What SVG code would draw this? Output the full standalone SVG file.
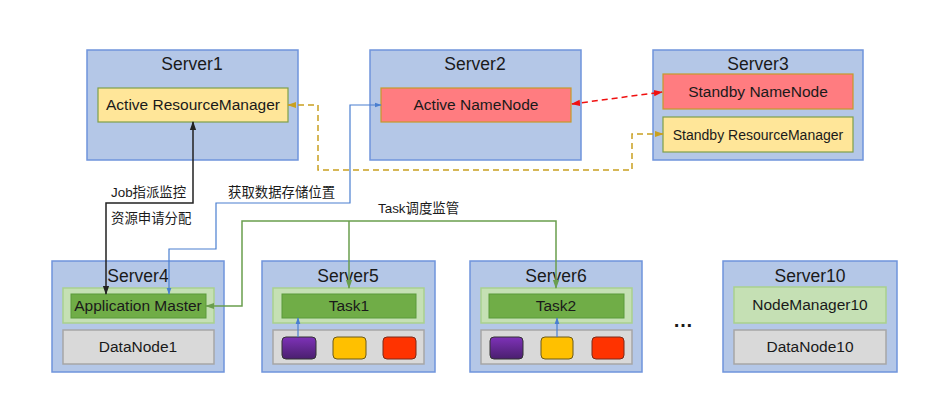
<svg xmlns="http://www.w3.org/2000/svg" width="931" height="411" viewBox="0 0 931 411">
<defs>
<style>
.srv{fill:#B4C7E7;stroke:#6F94DC;stroke-width:1.5}
.yel{fill:#FFE699;stroke:#7F9F4A;stroke-width:1.2}
.red{fill:#FF7C80;stroke:#C59A2A;stroke-width:1.2}
.lg{fill:#C5E0B4;stroke:#A9D18E;stroke-width:1.5}
.dg{fill:#70AD47;stroke:#5A9A3A;stroke-width:1}
.gray{fill:#D9D9D9;stroke:#A6A6A6;stroke-width:1.5}
.t{font-family:"Liberation Sans",Arial,sans-serif;fill:#1a1a1a;text-anchor:middle}
.title{font-size:17.5px}
.lbl{font-size:15.5px}
.cn{font-family:"Liberation Sans","Noto Sans CJK SC",sans-serif;font-size:13.4px;fill:#1a1a1a}
.ln{fill:none}
</style>
<linearGradient id="pg" x1="0" y1="0" x2="0" y2="1">
<stop offset="0" stop-color="#7E32B8"/>
<stop offset="1" stop-color="#4A1F6E"/>
</linearGradient>
<marker id="ak" viewBox="0 0 10 10" refX="9" refY="5" markerWidth="6" markerHeight="6" orient="auto-start-reverse"><path d="M0,1.5 L10,5 L0,8.5 z" fill="#222"/></marker>
<marker id="ab" viewBox="0 0 10 10" refX="9" refY="5" markerWidth="6" markerHeight="6" orient="auto-start-reverse"><path d="M0,1.5 L10,5 L0,8.5 z" fill="#4A7FD0"/></marker>
<marker id="ag" viewBox="0 0 10 10" refX="9" refY="5" markerWidth="6" markerHeight="6" orient="auto-start-reverse"><path d="M0,1.5 L10,5 L0,8.5 z" fill="#6A9E4E"/></marker>
<marker id="ar" viewBox="0 0 10 10" refX="9" refY="5" markerWidth="6" markerHeight="6" orient="auto-start-reverse"><path d="M0,1.5 L10,5 L0,8.5 z" fill="#F01010"/></marker>
<marker id="ay" viewBox="0 0 10 10" refX="9" refY="5" markerWidth="6" markerHeight="6" orient="auto-start-reverse"><path d="M0,1.5 L10,5 L0,8.5 z" fill="#C9A020"/></marker>
</defs>
<rect width="931" height="411" fill="#ffffff"/>

<g id="server1">
<rect class="srv" x="87" y="50" width="211" height="110"/>
<text class="t title" x="192" y="70">Server1</text>
<rect class="yel" x="98" y="88" width="190" height="34"/>
<text class="t lbl" x="193" y="110">Active ResourceManager</text>
</g>
<g id="server2">
<rect class="srv" x="370" y="50" width="211" height="110"/>
<text class="t title" x="475" y="70">Server2</text>
<rect class="red" x="381" y="88" width="190" height="34"/>
<text class="t lbl" x="476" y="110">Active NameNode</text>
</g>
<g id="server3">
<rect class="srv" x="653" y="50" width="210" height="110"/>
<text class="t title" x="758" y="70">Server3</text>
<rect class="red" x="663" y="74" width="190" height="35"/>
<text class="t lbl" x="758" y="97">Standby NameNode</text>
<rect class="yel" x="663" y="117" width="190" height="35"/>
<text class="t" x="758" y="140" font-size="14">Standby ResourceManager</text>
</g>
<g id="server4">
<rect class="srv" x="52" y="261" width="172" height="111"/>
<text class="t title" x="138" y="282">Server4</text>
<rect class="lg" x="63" y="288" width="151" height="35"/>
<rect class="dg" x="71" y="294" width="135" height="24"/>
<text class="t lbl" x="138" y="311">Application Master</text>
<rect class="gray" x="63" y="330" width="151" height="34"/>
<text class="t lbl" x="138" y="352">DataNode1</text>
</g>
<g id="server5">
<rect class="srv" x="262" y="261" width="173" height="111"/>
<text class="t title" x="348" y="282">Server5</text>
<rect class="lg" x="273" y="288" width="151" height="35"/>
<rect class="dg" x="282" y="294" width="134" height="24"/>
<text class="t lbl" x="349" y="311">Task1</text>
<rect class="gray" x="273" y="330" width="151" height="34"/>
<rect x="282" y="337" width="34" height="22" rx="4" fill="url(#pg)" stroke="#333" stroke-width="1"/>
<rect x="333" y="337" width="33" height="22" rx="4" fill="#FFC000" stroke="#6b5a1a" stroke-width="1"/>
<rect x="383" y="337" width="33" height="22" rx="4" fill="#FF3300" stroke="#7a2a1a" stroke-width="1"/>
</g>
<g id="server6">
<rect class="srv" x="470" y="261" width="172" height="111"/>
<text class="t title" x="556" y="282">Server6</text>
<rect class="lg" x="481" y="288" width="151" height="35"/>
<rect class="dg" x="489" y="294" width="135" height="24"/>
<text class="t lbl" x="556" y="311">Task2</text>
<rect class="gray" x="481" y="330" width="151" height="34"/>
<rect x="490" y="337" width="33" height="22" rx="4" fill="url(#pg)" stroke="#333" stroke-width="1"/>
<rect x="541" y="337" width="32" height="22" rx="4" fill="#FFC000" stroke="#6b5a1a" stroke-width="1"/>
<rect x="592" y="337" width="32" height="22" rx="4" fill="#FF3300" stroke="#7a2a1a" stroke-width="1"/>
</g>
<g id="dots">
<text class="t" x="683" y="327" font-size="20" font-weight="bold">…</text>
</g>
<g id="server10">
<rect class="srv" x="723" y="261" width="174" height="111"/>
<text class="t title" x="810" y="282">Server10</text>
<rect class="lg" x="734" y="287" width="152" height="36"/>
<text class="t lbl" x="810" y="310">NodeManager10</text>
<rect class="gray" x="734" y="330" width="152" height="34"/>
<text class="t lbl" x="810" y="352">DataNode10</text>
</g>

<g id="connectors">
<path class="ln" d="M193,122 L193,203 L106,203 L106,294" stroke="#222" stroke-width="1.5" marker-start="url(#ak)" marker-end="url(#ak)"/>
<path class="ln" d="M169,294 L169,249 L216,249 L216,203 L350,203 L350,105 L381,105" stroke="#4A7FD0" stroke-width="1.2" marker-start="url(#ab)" marker-end="url(#ab)"/>
<path class="ln" d="M206,306 L242,306 L242,221 L556,221 L556,288" stroke="#6A9E4E" stroke-width="1.5" marker-start="url(#ag)" marker-end="url(#ag)"/>
<path class="ln" d="M349,221 L349,288" stroke="#6A9E4E" stroke-width="1.5" marker-end="url(#ag)"/>
<path class="ln" d="M298,337 L298,318" stroke="#4A7FD0" stroke-width="1.2" marker-end="url(#ab)"/>
<path class="ln" d="M557,337 L557,318" stroke="#4A7FD0" stroke-width="1.2" marker-end="url(#ab)"/>
<path class="ln" d="M572,104 L662,92" stroke="#F01010" stroke-width="1.5" stroke-dasharray="6,4" marker-start="url(#ar)" marker-end="url(#ar)"/>
<path class="ln" d="M288,105 L318,105 L318,170 L632,170 L632,134 L663,134" stroke="#C9A020" stroke-width="1.5" stroke-dasharray="6,4" marker-start="url(#ay)" marker-end="url(#ay)"/>
<text class="cn" x="111" y="197">Job指派监控</text>
<text class="cn" x="111" y="223">资源申请分配</text>
<text class="cn" x="228" y="197">获取数据存储位置</text>
<text class="cn" x="378" y="213">Task调度监管</text>
</g>
</svg>
